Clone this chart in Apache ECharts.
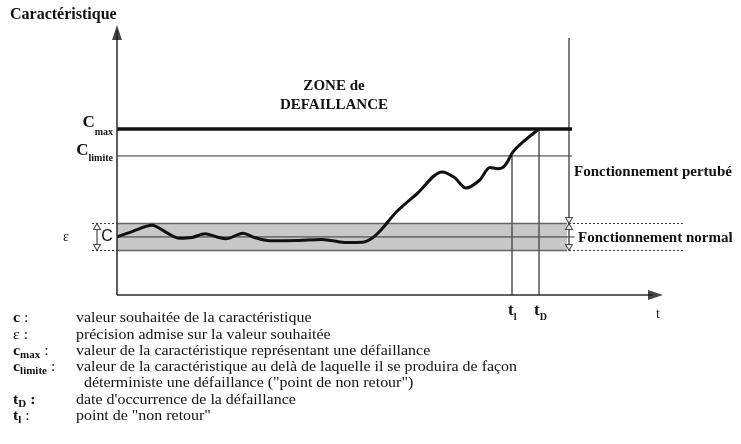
<!DOCTYPE html>
<html>
<head>
<meta charset="utf-8">
<script src="https://cdn.jsdelivr.net/npm/echarts@6/dist/echarts.min.js"></script>
<style>
html, body { margin: 0; padding: 0; background: #fff; }
#chart { width: 741px; height: 444px; }
</style>
</head>
<body>
<div id="chart"></div>
<script>
// courbe de la caracteristique en fonction du temps
var curveT = [0, 3, 7, 10, 12.5, 15, 17.6, 20, 21.8, 25.2, 27.5, 30.5, 36, 41, 46, 49, 51, 53, 56, 60, 65, 67.5, 69.8, 72.5, 74.6, 76.2, 77.6, 79.2, 81.2, 84.4];
var curveC = [21.5, 23.5, 25.8, 23, 21, 21.3, 22.7, 21.5, 20.8, 22.9, 21.3, 20.1, 20.2, 20.6, 19.4, 19.5, 21, 24.5, 31, 37.5, 45.6, 43.5, 39.6, 42.5, 47.2, 46.8, 48, 53, 56.7, 61.5];

// niveaux et dates
var cNominal = 21.5, epsTop = 26.5, epsBottom = 16.5;
var cLimite = 51.5, cMax = 61.5;
var tLimite = 79, tDefaillance = 84.4, tZone = 90.4;
var tAxisEnd = 109.2, yAxisEnd = 100;

var chart = echarts.init(document.getElementById('chart'));
var serif = 'Liberation Serif';

function seg(x1, y1, x2, y2, color, width, type) {
	return {
		type : 'line',
		data : [ [ x1, y1 ], [ x2, y2 ] ],
		symbol : 'none',
		silent : true,
		clip : false,
		animation : false,
		lineStyle : { color : color, width : width, type : type || 'solid' }
	};
}

function head(x, y, dir, filled, size) {
	var rot = { up : 0, down : 180, right : -90 }[dir];
	var off = { up : [ 0, size[1] / 2 ], down : [ 0, -size[1] / 2 ], right : [ -size[1] / 2, 0 ] }[dir];
	return {
		type : 'scatter',
		data : [ [ x, y ] ],
		symbol : 'triangle',
		symbolSize : size,
		symbolRotate : rot,
		symbolOffset : off,
		silent : true,
		clip : false,
		animation : false,
		z : 5,
		itemStyle : filled ? { color : '#1a1a1a' } : { color : '#fff', borderColor : '#222', borderWidth : 1 }
	};
}

var band = seg(0, epsTop, tZone - 0.4, epsTop, '#666', 1.5);
band.markArea = {
	silent : true,
	itemStyle : { color : '#c8c8c8' },
	data : [ [ { coord : [ 0, epsBottom ] }, { coord : [ tZone - 0.4, epsTop ] } ] ]
};

var series = [
	band,
	seg(0, epsBottom, tZone - 0.4, epsBottom, '#666', 1.5),
	seg(0, cNominal, tZone + 1.1, cNominal, '#333', 1),
	seg(-5, epsTop, 0, epsTop, '#333', 1, [ 2, 2 ]),
	seg(-5, epsBottom, 0, epsBottom, '#333', 1, [ 2, 2 ]),
	seg(tZone, epsTop, 113.2, epsTop, '#333', 1, [ 2, 2 ]),
	seg(tZone, epsBottom, 113.2, epsBottom, '#333', 1, [ 2, 2 ]),
	seg(0, cLimite, tZone + 0.6, cLimite, '#333', 1),
	seg(tLimite, 0, tLimite, cLimite, '#555', 1.5),
	seg(tDefaillance, 0, tDefaillance, cMax, '#555', 1.5),
	seg(tZone, epsBottom, tZone, 95.2, '#555', 1.5),
	seg(-4, epsBottom + 2, -4, epsTop - 2, '#222', 1),
	{
		type : 'line',
		data : curveT.map(function(t, i) { return [ t, curveC[i] ]; }),
		smooth : 0.3,
		symbol : 'none',
		silent : true,
		animation : false,
		z : 3,
		lineStyle : { color : '#111', width : 3 }
	},
	seg(0, cMax, tZone + 0.6, cMax, '#111', 3.5),
	seg(0, 0, 0, yAxisEnd - 2, '#2a2a2a', 1.5),
	seg(0, 0, tAxisEnd - 2, 0, '#2a2a2a', 1.5),
	head(0, yAxisEnd, 'up', true, [ 10, 15 ]),
	head(tAxisEnd, 0, 'right', true, [ 10, 15 ]),
	head(-4, epsTop, 'up', false, [ 7, 6 ]),
	head(-4, epsBottom, 'down', false, [ 7, 6 ]),
	head(tZone, epsTop, 'down', false, [ 7, 6 ]),
	head(tZone, epsTop, 'up', false, [ 7, 6 ]),
	head(tZone, epsBottom, 'down', false, [ 7, 6 ])
];

chart.setOption({
	backgroundColor : '#fff',
	animation : false,
	grid : { left : 87, right : 24, top : 11.5, bottom : 149 },
	xAxis : { type : 'value', min : -6, max : 120, show : false },
	yAxis : { type : 'value', min : 0, max : 105, show : false },
	series : series
});

// textes
var ctx = document.createElement('canvas').getContext('2d');
function measure(text, font) {
	ctx.font = font;
	return ctx.measureText(text).width;
}
function px(x, y) {
	return chart.convertToPixel({ gridIndex : 0 }, [ x, y ]);
}
var texts = [];
function txt(text, x, y, size, opts) {
	opts = opts || {};
	texts.push({
		type : 'text',
		x : x,
		y : y,
		scaleX : opts.scaleX || 1,
		silent : true,
		z : 10,
		style : {
			text : text,
			fill : opts.color || '#111',
			font : (opts.bold ? 'bold ' : '') + size + 'px ' + (opts.family || serif),
			textAlign : opts.align || 'left',
			textVerticalAlign : 'middle'
		}
	});
}
// symbole avec indice, aligne a gauche en x
function sym(main, sub, x, y, size, subSize, bold, dy, sx) {
	sx = sx || 1;
	var w = measure(main, (bold ? 'bold ' : '') + size + 'px ' + serif) * sx;
	txt(main, x, y, size, { bold : bold, scaleX : sx });
	if (sub) {
		txt(sub, x + w, y + dy, subSize, { bold : bold, scaleX : sx });
		return w + measure(sub, (bold ? 'bold ' : '') + subSize + 'px ' + serif) * sx;
	}
	return w;
}

txt('Caractéristique', 10, 15, 16, { bold : true });
txt('ZONE de', 334, 86, 15, { bold : true, align : 'center' });
txt('DEFAILLANCE', 334, 105, 15, { bold : true, align : 'center' });
txt('Fonctionnement pertubé', 574, 172, 15, { bold : true });
txt('Fonctionnement normal', 578, px(0, cNominal)[1] + 1, 15, { bold : true });
txt('ε', 63, px(0, cNominal)[1], 14);
txt('C', 107, px(0, cNominal)[1], 16, { family : 'Liberation Sans', align : 'center' });

var yMax = px(0, cMax)[1], yLim = px(0, cLimite)[1];
var wMax = measure('C', 'bold 17px ' + serif) + measure('max', 'bold 10px ' + serif);
sym('C', 'max', 113 - wMax, yMax - 6, 17, 10, true, 9);
var wLim = measure('C', 'bold 17px ' + serif) + measure('limite', 'bold 10px ' + serif);
sym('C', 'limite', 113 - wLim, yLim - 5, 17, 10, true, 7);

var xL = px(tLimite, 0)[0], xD = px(tDefaillance, 0)[0];
sym('t', 'l', xL - 4, 311, 17, 10, true, 6);
sym('t', 'D', xD - 5, 311, 17, 10, true, 6);
txt('t', 656, 314, 14);

// legende
var legendKeys = [ 'c', 'ε', 'c', 'c', '', 't', 't' ];
var legendSubs = [ '', '', 'max', 'limite', '', 'D', 'l' ];
var legendColons = [ ' :', ' :', ' :', ' :', '', ' :', ' :' ];
var legendTexts = [
	'valeur souhaitée de la caractéristique',
	'précision admise sur la valeur souhaitée',
	'valeur de la caractéristique représentant une défaillance',
	'valeur de la caractéristique au delà de laquelle il se produira de façon',
	'  déterministe une défaillance ("point de non retour")',
	'date d\'occurrence de la défaillance',
	'point de "non retour"'
];
var legendY = [ 318, 335, 351, 367, 383, 400, 416 ];
legendTexts.forEach(function(t, i) {
	var y = legendY[i];
	if (legendKeys[i]) {
		var bold = legendKeys[i] !== 'ε';
		var w = sym(legendKeys[i], legendSubs[i], 13, y, 14.5, 10, bold, 4, 1.1);
		txt(legendColons[i], 13 + w, y, 14.5, { bold : i === 5, scaleX : 1.1 });
	}
	txt(t, 76, y, 14.5, { scaleX : 1.1 });
});

chart.setOption({ graphic : texts });
</script>
</body>
</html>
